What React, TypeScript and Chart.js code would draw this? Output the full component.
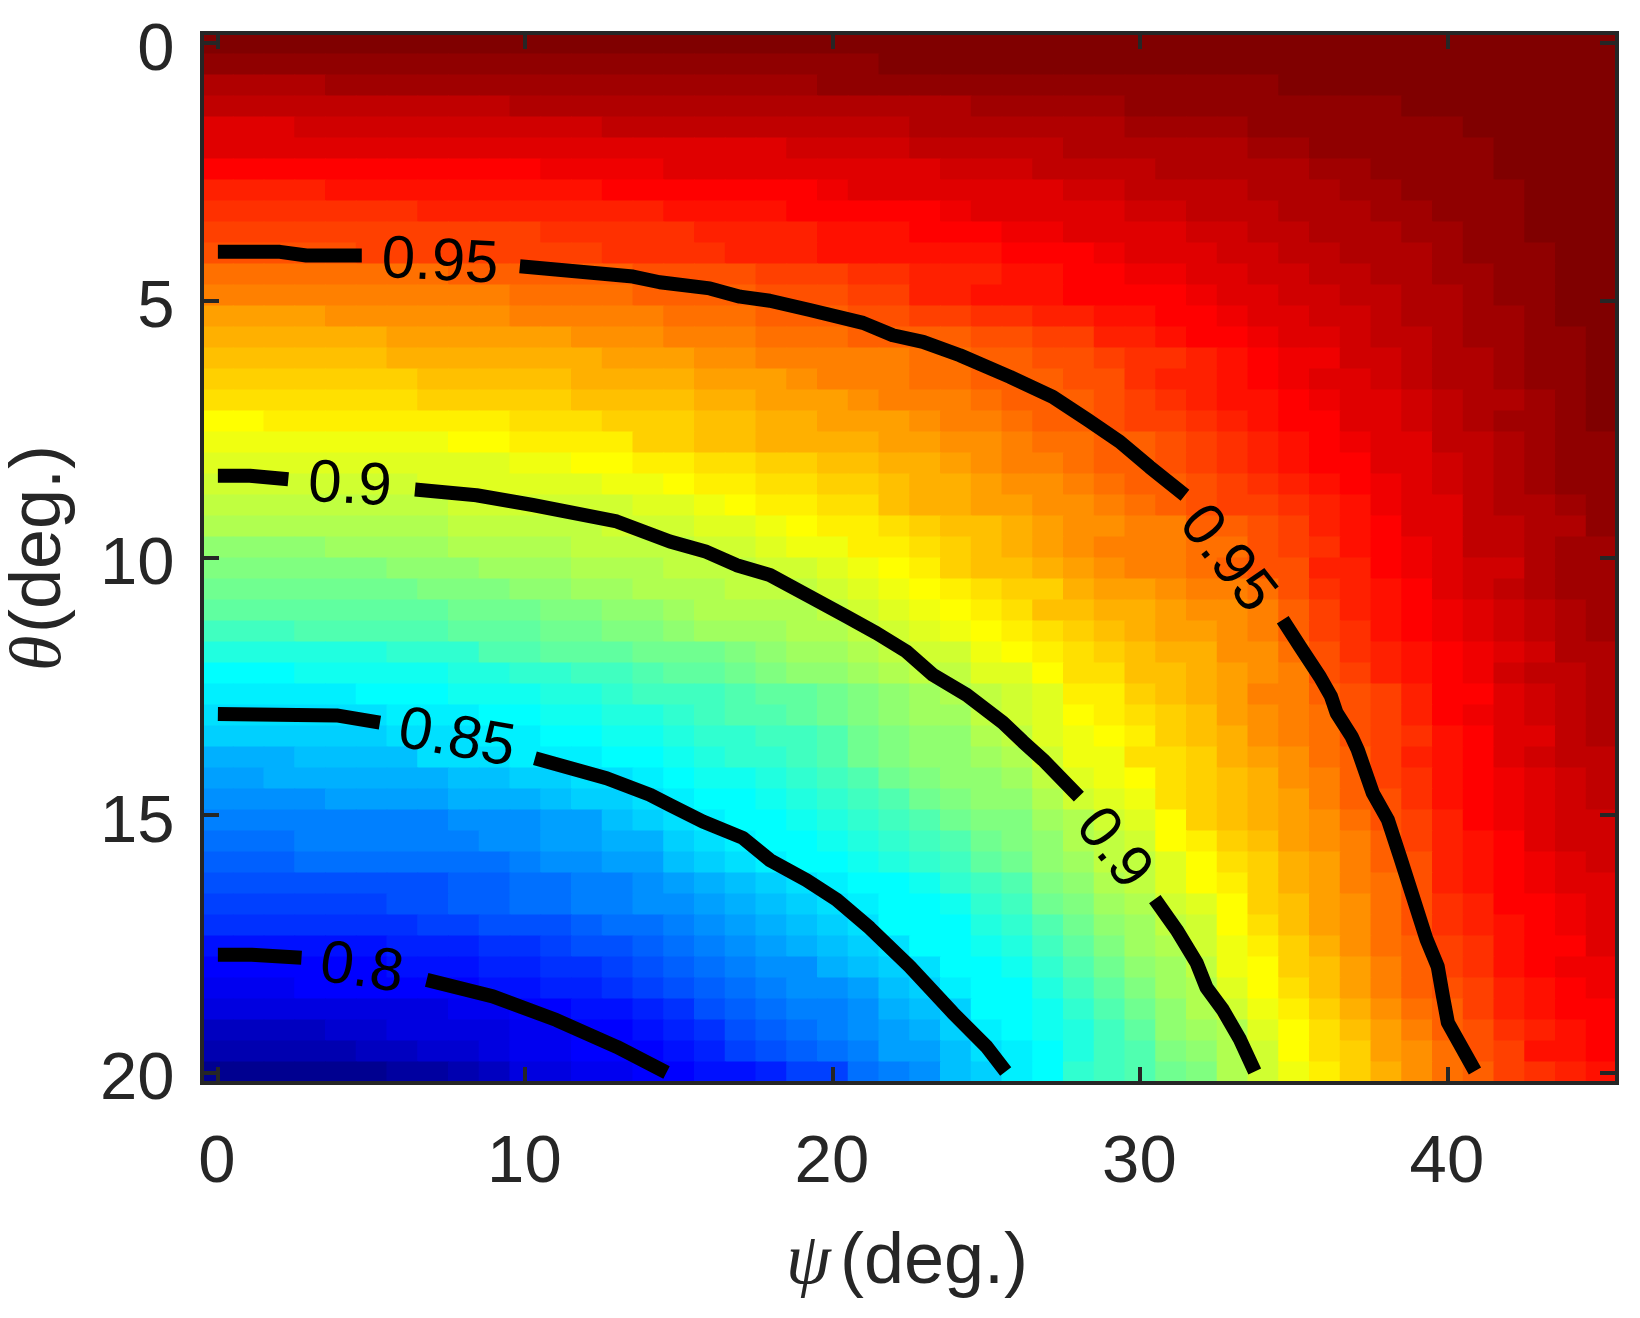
import React, { useEffect, useRef } from "react";
import { Chart, registerables } from "chart.js";

Chart.register(...registerables);

const psi = [0,1,2,3,4,5,6,7,8,9,10,11,12,13,14,15,16,17,18,19,20,21,22,23,24,25,26,27,28,29,30,31,32,33,34,35,36,37,38,39,40,41,42,43,44,45];
const theta = [0,0.408,0.816,1.224,1.633,2.041,2.449,2.857,3.265,3.673,4.082,4.49,4.898,5.306,5.714,6.122,6.531,6.939,7.347,7.755,8.163,8.571,8.98,9.388,9.796,10.204,10.612,11.02,11.429,11.837,12.245,12.653,13.061,13.469,13.878,14.286,14.694,15.102,15.51,15.918,16.327,16.735,17.143,17.551,17.959,18.367,18.776,19.184,19.592,20];
const xTicks = [0,10,20,30,40];
const yTicks = [0,5,10,15,20];

// One row per theta: pairs of (first psi column, colour level 0-63).
const cellRuns = [
[0,63],
[0,62,22,63],
[0,60,4,61,20,62,35,63],
[0,59,10,60,25,61,30,62,39,63],
[0,57,3,58,13,59,23,60,30,61,34,62,41,63],
[0,57,19,58,23,59,28,60,34,61,36,62,42,63],
[0,55,11,56,15,57,24,58,27,59,31,60,36,61,38,62,42,63],
[0,53,4,54,13,55,20,56,21,57,28,58,30,59,34,60,37,61,39,62,43,63],
[0,52,7,53,15,54,19,55,24,56,25,57,30,58,32,59,35,60,38,61,40,62,43,63],
[0,51,11,52,16,53,20,54,23,55,26,56,28,57,32,58,34,59,36,60,39,61,41,62,43,63],
[0,50,5,51,13,52,17,53,20,54,26,55,29,56,30,57,33,58,35,59,37,60,40,61,41,62,44,63],
[0,48,8,49,14,50,18,51,21,52,23,53,26,54,28,55,30,56,32,57,34,58,36,59,38,60,40,61,42,62,44,63],
[0,47,10,48,14,49,18,50,21,51,23,53,25,54,28,55,32,56,33,57,35,58,37,59,39,60,41,61,42,62,44,63],
[0,45,4,46,10,47,15,48,18,49,21,50,23,51,25,52,27,53,29,54,31,55,33,56,34,57,36,58,38,59,39,60,41,61,43,62,44,63],
[0,44,6,45,12,46,15,47,18,48,21,49,25,50,27,51,29,53,31,54,32,55,34,56,35,57,37,58,38,59,40,60,41,61,43,62,45,63],
[0,43,6,44,13,45,16,46,18,47,23,48,25,49,27,50,29,51,30,52,32,53,33,54,34,55,35,56,37,58,39,59,40,60,42,61,43,62,45,63],
[0,42,7,43,12,44,16,45,19,46,20,47,23,48,25,49,28,50,30,52,31,53,33,54,34,55,35,56,36,57,38,58,39,59,40,60,42,61,43,62,45,63],
[0,41,7,42,12,43,16,44,18,45,21,46,22,47,25,48,26,49,29,50,30,51,31,52,32,53,33,54,35,55,36,56,37,57,39,58,40,59,41,60,43,61,44,62,45,63],
[0,39,2,40,10,41,13,42,16,43,18,44,20,45,23,46,24,47,26,48,27,49,29,50,30,51,32,52,33,53,34,54,35,55,37,57,39,58,40,59,41,60,42,61,44,62,45,63],
[0,38,8,39,10,40,14,42,16,43,18,44,22,45,24,46,26,47,27,48,29,49,31,50,32,51,33,52,34,53,35,54,36,55,37,56,38,57,40,59,42,60,43,61,44,62],
[0,37,10,38,12,39,14,40,16,41,18,42,20,43,22,44,24,45,25,46,26,47,28,48,29,49,31,50,32,51,33,52,34,53,35,54,36,55,38,57,40,58,41,59,42,60,43,61,44,62],
[0,36,7,37,13,38,15,39,16,40,18,41,20,42,22,43,23,44,25,45,26,46,28,47,29,48,30,49,32,50,33,51,34,52,35,53,36,54,37,55,38,56,39,57,40,58,41,59,42,60,43,61,44,62],
[0,35,8,36,14,37,16,38,17,39,18,40,20,41,22,43,23,44,25,45,27,46,29,47,30,48,31,49,32,50,33,51,35,52,36,53,37,54,38,56,39,57,41,59,42,60,44,61,45,62],
[0,34,8,35,13,36,16,37,18,38,19,39,20,40,22,41,23,42,24,43,26,44,27,45,28,46,30,47,32,49,34,50,35,51,36,53,37,54,38,55,39,57,41,59,43,60,45,62],
[0,32,4,33,8,34,12,35,16,36,18,37,19,38,21,40,23,41,24,42,25,43,26,44,27,45,28,46,29,47,32,48,34,50,35,51,36,52,37,54,38,55,39,56,40,57,41,59,43,60,44,61],
[0,31,6,32,9,33,12,34,15,35,18,36,20,37,21,38,22,39,23,40,24,42,25,43,27,44,28,45,29,46,30,47,32,48,33,49,34,50,36,53,38,55,39,56,40,57,41,58,43,60,44,61],
[0,30,7,31,10,32,12,33,14,34,17,35,20,36,21,37,22,38,23,39,24,40,25,41,26,42,28,44,29,45,31,46,32,47,34,48,35,50,36,52,37,53,38,54,39,55,40,57,41,58,42,59,43,60,44,61],
[0,29,8,30,11,31,13,32,15,33,16,34,20,35,21,36,22,37,23,38,24,39,25,40,26,41,27,43,29,44,31,45,32,46,34,47,35,49,36,51,37,53,38,54,39,55,40,56,41,57,42,58,43,59,44,60,45,61],
[0,27,3,28,8,29,11,30,13,31,15,32,16,33,19,34,21,35,22,36,23,37,24,38,25,39,26,40,27,41,28,42,29,43,30,44,31,45,33,46,34,47,35,49,36,51,37,52,38,54,39,55,40,56,41,57,42,58,43,59,44,60,45,61],
[0,25,6,26,9,28,11,29,14,30,17,31,18,32,19,33,21,34,22,35,23,36,25,38,26,39,27,40,28,41,29,42,30,43,31,44,33,46,35,48,36,50,37,52,38,53,39,54,40,55,41,56,42,57,43,58,44,60],
[0,23,3,24,8,25,10,26,12,27,14,28,15,29,17,30,18,31,19,32,21,33,22,34,23,35,25,37,27,39,28,41,30,43,32,44,33,45,34,46,35,47,36,50,37,51,38,53,39,54,40,55,41,56,42,58,43,59,45,60],
[0,22,5,23,8,24,11,25,13,26,14,27,17,28,18,29,20,30,21,31,22,32,23,33,24,34,25,35,26,36,27,37,28,40,30,42,31,43,32,44,33,45,34,47,36,49,37,50,38,51,39,53,40,55,42,57,43,58,44,59,45,60],
[0,21,6,22,9,23,11,24,13,25,15,26,16,27,17,28,19,29,20,30,21,31,22,32,23,33,25,35,26,36,27,37,28,39,29,40,30,41,31,42,32,43,33,45,34,46,35,47,36,48,37,50,38,51,39,53,40,55,41,56,42,57,43,58,44,59,45,60],
[0,20,6,21,9,22,11,23,13,24,15,25,16,26,18,27,20,28,21,30,22,31,23,32,25,34,26,35,27,37,28,38,29,39,30,40,31,42,32,43,33,44,34,46,35,47,36,48,37,50,38,51,39,52,40,54,41,55,42,57,44,59,45,60],
[0,18,3,19,7,21,10,22,13,23,15,24,16,25,17,26,19,27,20,28,21,30,22,31,23,32,25,33,26,34,27,36,28,38,30,41,32,42,33,44,34,45,35,46,36,48,37,49,38,51,39,53,40,54,41,55,42,57,43,58,44,59],
[0,17,2,18,8,19,10,20,12,21,14,22,15,23,16,24,18,25,19,26,20,27,21,28,22,30,23,31,24,32,26,33,27,35,28,37,29,38,30,39,31,41,32,42,33,43,34,44,35,46,36,47,37,49,38,51,39,52,40,54,41,55,42,56,43,57,44,58,45,59],
[0,16,4,17,8,18,11,19,12,20,14,21,15,22,16,23,18,24,19,25,20,26,21,27,22,28,23,30,24,31,25,32,27,34,28,36,29,37,30,38,31,41,32,42,33,43,34,44,35,45,36,47,37,49,38,50,39,52,40,54,41,55,42,56,43,57,44,58,45,59],
[0,15,8,16,11,17,13,19,14,20,15,21,16,22,17,23,19,24,20,25,21,26,22,27,23,28,24,30,25,31,27,33,28,34,29,36,30,37,31,39,32,42,33,43,34,44,35,45,36,46,37,48,38,50,39,51,40,53,41,55,42,56,43,57,44,58],
[0,14,3,15,9,16,11,17,13,18,15,20,16,21,17,22,18,23,20,24,21,25,22,26,23,27,24,28,25,30,26,31,27,32,28,34,29,35,30,36,31,39,32,40,33,42,34,43,35,45,36,46,37,47,38,49,39,51,40,53,41,54,42,55,43,57,44,58],
[0,13,3,14,10,15,11,16,13,17,15,19,16,20,17,21,18,22,19,23,21,24,22,25,23,26,24,27,25,29,26,30,27,32,28,33,29,35,31,37,32,39,33,41,34,42,35,44,36,45,37,47,38,49,39,50,40,53,41,54,42,55,43,56,44,57,45,58],
[0,12,8,13,10,14,12,15,14,16,15,17,16,18,17,19,18,20,19,21,20,22,21,23,23,24,24,26,25,27,26,28,27,31,28,32,29,34,30,35,31,37,32,39,33,40,34,42,35,44,36,45,37,47,38,48,39,50,40,53,41,54,42,55,43,56,44,57],
[0,11,6,12,8,13,10,14,12,15,14,16,16,17,17,18,18,19,19,20,20,21,21,22,22,23,24,24,25,26,26,27,27,30,28,31,29,33,30,34,31,36,32,37,33,39,34,42,35,43,36,45,37,46,38,48,39,50,40,52,41,53,42,55,44,56,45,57],
[0,10,7,11,9,12,12,13,13,14,15,15,16,16,17,17,18,18,19,19,20,20,21,21,22,23,25,25,26,26,27,28,28,30,29,32,30,33,31,35,32,36,33,39,34,41,35,43,36,45,37,46,38,48,39,50,40,52,41,53,42,54,43,55,44,56,45,57],
[0,8,6,9,9,10,11,11,12,12,14,13,15,14,16,15,17,16,18,17,19,18,20,19,21,20,22,21,23,23,25,24,26,25,27,27,28,29,29,31,30,33,31,34,32,36,33,38,34,40,35,42,36,44,37,46,38,48,39,49,40,51,41,52,42,54,43,55,45,57],
[0,7,6,8,9,9,11,10,13,11,14,12,15,13,16,14,17,15,18,16,20,18,21,19,22,20,23,21,24,23,26,24,27,26,28,28,29,30,30,32,31,33,32,35,33,38,34,39,35,42,36,43,37,45,38,47,39,49,40,51,41,52,42,54,43,55,44,56],
[0,6,3,7,9,8,11,9,13,10,14,11,15,12,16,13,17,14,18,15,19,16,21,17,22,19,23,20,24,22,25,23,27,25,28,27,29,29,30,31,31,33,32,34,33,37,34,39,35,41,36,43,37,45,38,47,39,49,40,50,41,51,42,53,43,54,44,55,45,56],
[0,5,8,6,10,7,12,8,14,9,15,10,16,12,17,13,18,14,19,15,21,16,22,18,23,19,24,20,25,23,27,24,28,26,29,28,30,30,31,32,32,34,33,36,34,38,35,40,36,42,37,44,38,46,39,48,40,49,41,51,42,53,43,54,44,55],
[0,3,4,4,6,5,10,6,12,7,14,8,15,9,16,10,17,12,18,13,19,14,20,15,21,16,22,17,23,18,24,20,25,22,26,23,27,24,28,25,29,27,30,29,31,32,32,33,33,34,34,37,35,39,36,41,37,43,38,45,39,47,40,49,41,50,42,52,43,53,44,54,45,55],
[0,2,5,3,7,4,9,5,10,6,12,7,15,8,16,9,17,11,18,12,19,13,20,14,21,15,22,17,24,19,25,21,26,22,27,23,28,25,29,27,30,28,31,31,32,32,33,34,34,36,35,39,36,41,37,42,38,45,39,46,40,48,41,50,42,51,43,54,45,55],
[0,0,6,1,8,2,9,3,10,5,12,6,14,7,16,8,18,9,19,11,21,14,22,15,23,16,24,19,25,20,26,22,27,23,28,26,29,27,30,28,31,30,32,31,33,34,34,36,35,38,36,40,37,42,38,44,39,46,40,48,41,49,42,51,43,52,44,53,45,54],
];

// Contour segments as [psi, theta] pairs; each gap holds a label.
const contour095a = [[0,4.05],[2.02,4.05],[2.88,4.12],[4.68,4.12]];
const contour095b = [[9.82,4.33],[13.5,4.53],[14.37,4.64],[16,4.76],[16.98,4.92],[17.95,5],[19.25,5.18],[20.98,5.43],[21.95,5.67],[22.93,5.8],[24.13,6.06],[25.76,6.48],[27.15,6.87],[28.3,7.32],[29.33,7.74],[30.3,8.23],[31.45,8.78]];
const contour095c = [[34.63,11.2],[35.19,11.72],[35.84,12.31],[36.2,12.69],[36.38,13.01],[36.87,13.47],[37.07,13.73],[37.56,14.57],[38.05,15.09],[38.44,15.8],[38.86,16.58],[39.31,17.42],[39.67,17.94],[39.84,18.52],[40,19.03],[40.88,19.97]];
const contour090a = [[0,8.4],[1.04,8.4],[2.29,8.47]];
const contour090b = [[6.41,8.67],[8.41,8.78],[10.24,8.97],[12.97,9.29],[14.7,9.68],[15.89,9.88],[16.87,10.14],[17.95,10.33],[19.25,10.75],[20.45,11.14],[21.42,11.46],[22.4,11.82],[23.25,12.27],[24.35,12.66],[25.53,13.2],[26.18,13.57],[26.83,13.92],[28,14.64]];
const contour090c = [[30.47,16.63],[31.18,17.23],[31.83,17.87],[32.15,18.35],[32.68,18.78],[33.24,19.36],[33.72,19.98]];
const contour085a = [[0,13.03],[3.86,13.06],[5.27,13.2]];
const contour085b = [[10.31,13.89],[12.64,14.28],[14.05,14.6],[14.7,14.8],[15.77,15.12],[17.07,15.44],[17.95,15.87],[19.14,16.26],[20.12,16.64],[21.2,17.19],[22.5,17.94],[23.9,18.84],[25,19.5],[25.62,19.98]];
const contour080a = [[0,17.71],[1.1,17.71],[2.72,17.77]];
const contour080b = [[6.79,18.2],[8.94,18.52],[11.01,18.98],[12.97,19.5],[14.59,20]];
const contourSegments = [contour095a,contour095b,contour095c,contour090a,contour090b,contour090c,contour085a,contour085b,contour080a,contour080b];

const labelTexts = ["0.95","0.95","0.9","0.9","0.85","0.8"];
const labelPsi = [7.22,32.8,4.29,29.1,7.76,4.67];
const labelTheta = [4.27,10.03,8.61,15.66,13.53,18.0];
const labelAngle = [3,52,3,52,10,8];

const INK = "#262626";
const SANS = "'Liberation Sans', Arial, sans-serif";
const SERIF = "'Liberation Serif', 'Times New Roman', serif";

function jet(i: number) {
  const r = i < 24 ? 0 : i < 40 ? (i - 23) / 16 : i < 56 ? 1 : 1 - (i - 55) / 16;
  const g = i < 8 ? 0 : i < 24 ? (i - 7) / 16 : i < 40 ? 1 : i < 56 ? 1 - (i - 39) / 16 : 0;
  const b = i < 8 ? (i + 9) / 16 : i < 24 ? 1 : i < 40 ? 1 - (i - 23) / 16 : 0;
  const h = (v: number) => Math.round(Math.min(255, v * 255.9));
  return `rgb(${h(r)},${h(g)},${h(b)})`;
}

function levelAt(row: number[], col: number) {
  let level = row[1];
  for (let k = 0; k < row.length; k += 2) if (row[k] <= col) level = row[k + 1];
  return level;
}

const halfRow = 0.204;
const cells: { x: number; y: number[]; level: number }[] = [];
theta.forEach((t, r) => {
  psi.forEach((p) => {
    cells.push({ x: p, y: [t - halfRow, t + halfRow], level: levelAt(cellRuns[r], p) });
  });
});

const decoration = {
  id: "decoration",
  afterDatasetsDraw(chart: any) {
    const { ctx, chartArea: a, scales } = chart;
    const x = scales.x;
    const y = scales.y;
    const left = Math.floor(a.left);
    const right = Math.round(a.right);
    const top = Math.round(a.top);
    const bottom = Math.round(a.bottom);
    ctx.save();
    // contour labels
    ctx.fillStyle = "#000";
    ctx.font = `60px ${SANS}`;
    ctx.textAlign = "center";
    ctx.textBaseline = "middle";
    labelTexts.forEach((s, i) => {
      ctx.save();
      ctx.translate(x.getPixelForValue(labelPsi[i]), y.getPixelForValue(labelTheta[i]));
      ctx.rotate((labelAngle[i] * Math.PI) / 180);
      ctx.fillText(s, 0, 0);
      ctx.restore();
    });
    // inward ticks on all four sides
    ctx.strokeStyle = INK;
    ctx.lineWidth = 4;
    ctx.beginPath();
    xTicks.forEach((v) => {
      const px = Math.round(x.getPixelForValue(v));
      ctx.moveTo(px, top);
      ctx.lineTo(px, top + 16);
      ctx.moveTo(px, bottom);
      ctx.lineTo(px, bottom - 16);
    });
    yTicks.forEach((v) => {
      const py = Math.round(y.getPixelForValue(v));
      ctx.moveTo(left, py);
      ctx.lineTo(left + 17, py);
      ctx.moveTo(right, py);
      ctx.lineTo(right - 17, py);
    });
    ctx.stroke();
    ctx.strokeRect(left, top, right - left, bottom - top);
    // axis titles: italic Greek letter + upright unit
    ctx.fillStyle = INK;
    ctx.textAlign = "left";
    ctx.textBaseline = "alphabetic";
    ctx.font = `italic 72px ${SERIF}`;
    ctx.fillText("ψ", 786, 1283);
    ctx.font = `72px ${SANS}`;
    ctx.fillText("(deg.)", 840, 1283);
    ctx.save();
    ctx.translate(60, 671);
    ctx.rotate(-Math.PI / 2);
    ctx.font = `italic 72px ${SERIF}`;
    ctx.fillText("θ", 0, 0);
    ctx.font = `72px ${SANS}`;
    ctx.fillText("(deg.)", 38, 0);
    ctx.restore();
    ctx.restore();
  },
};

export default function App() {
  const ref = useRef<HTMLCanvasElement | null>(null);
  useEffect(() => {
    const chart = new Chart(ref.current as HTMLCanvasElement, {
      type: "bar",
      data: {
        datasets: [
          {
            type: "bar",
            label: "efficiency",
            data: cells as any,
            order: 10,
            grouped: false,
            barPercentage: 1,
            categoryPercentage: 1,
            borderWidth: 0,
            inflateAmount: 0.5,
            backgroundColor: (c: any) => jet(c.raw.level),
          },
          ...contourSegments.map((seg) => ({
            type: "line",
            label: "contour",
            data: seg.map(([px, py]) => ({ x: px, y: py })),
            order: 1,
            borderColor: "#000",
            borderWidth: 14,
            borderCapStyle: "butt",
            borderJoinStyle: "round",
            pointRadius: 0,
            tension: 0,
            fill: false,
          })),
        ] as any,
      },
      options: {
        responsive: false,
        animation: false,
        devicePixelRatio: 1,
        events: [],
        layout: { padding: { left: 0, right: 23, top: 33, bottom: 0 } },
        plugins: { legend: { display: false }, tooltip: { enabled: false }, title: { display: false } },
        scales: {
          x: {
            type: "linear",
            min: -0.5,
            max: 45.5,
            offset: false,
            grid: { display: false },
            border: { display: false },
            afterBuildTicks: (s: any) => {
              s.ticks = xTicks.map((value) => ({ value }));
            },
            afterFit: (s: any) => {
              s.height = 235;
              s.paddingLeft = 0;
              s.paddingRight = 0;
              s.paddingTop = 0;
              s.paddingBottom = 0;
            },
            ticks: {
              autoSkip: false,
              maxRotation: 0,
              padding: 32,
              labelOffset: -1,
              color: INK,
              font: { family: "'Liberation Sans'", size: 67 },
              callback: (v: any) => String(v),
            },
          },
          y: {
            type: "linear",
            reverse: true,
            min: -0.204,
            max: 20.204,
            grid: { display: false },
            border: { display: false },
            afterBuildTicks: (s: any) => {
              s.ticks = yTicks.map((value) => ({ value }));
            },
            afterFit: (s: any) => {
              s.width = 202.5;
              s.paddingLeft = 0;
              s.paddingRight = 0;
              s.paddingTop = 0;
              s.paddingBottom = 0;
            },
            ticks: {
              autoSkip: false,
              padding: 20,
              labelOffset: 8,
              color: INK,
              font: { family: "'Liberation Sans'", size: 67 },
              callback: (v: any) => String(v),
            },
          },
        },
      } as any,
      plugins: [decoration],
    });
    return () => chart.destroy();
  }, []);
  return (
    <div style={{ position: "absolute", left: 0, top: 0, width: 1640, height: 1318, background: "#fff" }}>
      <canvas ref={ref} width={1640} height={1318} style={{ display: "block" }} />
    </div>
  );
}
